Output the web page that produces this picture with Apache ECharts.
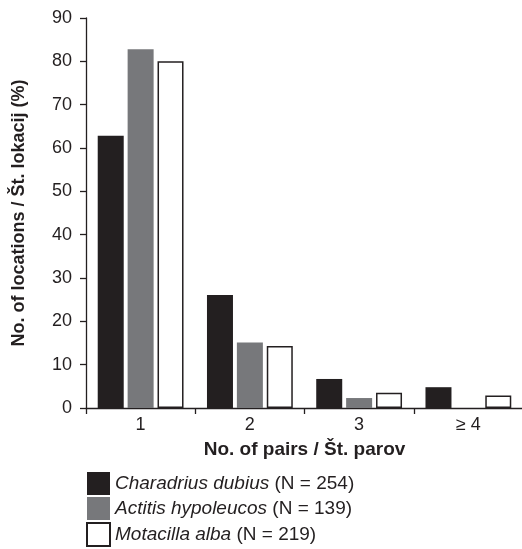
<!DOCTYPE html>
<html>
<head>
<meta charset="utf-8">
<script src="https://cdn.jsdelivr.net/npm/echarts@6/dist/echarts.min.js"></script>
<style>html,body{margin:0;padding:0;background:#fff}#c{width:522px;height:549px}</style>
</head>
<body>
<div id="c"></div>
<script>
const categories = ['1', '2', '3', '≥ 4'];
const species = ['Charadrius dubius', 'Actitis hypoleucos', 'Motacilla alba'];
const sampleSizes = [254, 139, 219];
const charadrius = [62.8, 26.1, 6.7, 4.8];
const actitis = [82.8, 15.1, 2.3, 0];
const motacilla = [80.0, 14.3, 3.5, 2.9];
const yTicks = [0, 10, 20, 30, 40, 50, 60, 70, 80, 90];

const FONT = "'Liberation Sans', Arial, sans-serif";
const INK = '#231f20';
const values = [charadrius, actitis, motacilla];
const styles = [
  {color: '#231f20', borderColor: '#231f20', borderWidth: 0},
  {color: '#77787b', borderColor: '#77787b', borderWidth: 0},
  {color: '#ffffff', borderColor: '#231f20', borderWidth: 1.5}
];
const names = species.map((s, i) => s + ' (N = ' + sampleSizes[i] + ')');

const chart = echarts.init(document.getElementById('c'), null, {renderer: 'canvas'});
chart.setOption({
  animation: false,
  backgroundColor: '#ffffff',
  textStyle: {fontFamily: FONT, color: INK},
  grid: {left: 86, top: 18, bottom: 141, width: 437, containLabel: false, outerBoundsMode: 'none'},
  legend: {
    orient: 'vertical',
    left: 86,
    top: 472,
    padding: 0,
    itemWidth: 23,
    itemHeight: 23,
    itemGap: 2,
    icon: 'rect',
    data: names,
    formatter: function (name) {
      const i = names.indexOf(name);
      return '{i|' + species[i] + '}{n| (N = ' + sampleSizes[i] + ')}';
    },
    textStyle: {
      color: INK,
      fontFamily: FONT,
      fontSize: 19,
      lineHeight: 20,
      rich: {
        i: {fontStyle: 'italic', fontSize: 19, lineHeight: 20, fontFamily: FONT, color: INK},
        n: {fontSize: 19, lineHeight: 20, fontFamily: FONT, color: INK}
      }
    }
  },
  xAxis: {
    type: 'category',
    data: categories,
    name: 'No. of pairs / Št. parov',
    nameLocation: 'middle',
    nameGap: 32,
    nameTextStyle: {fontSize: 19, fontWeight: 'bold', color: INK, fontFamily: FONT},
    axisLine: {lineStyle: {color: INK, width: 1.3}},
    axisTick: {show: true, length: 6, lineStyle: {color: INK, width: 1.3}},
    axisLabel: {fontSize: 18, color: INK, margin: 8, fontFamily: FONT}
  },
  yAxis: {
    type: 'value',
    min: yTicks[0],
    max: yTicks[yTicks.length - 1],
    interval: yTicks[1] - yTicks[0],
    name: 'No. of locations / Št. lokacij (%)',
    nameLocation: 'middle',
    nameGap: 58,
    nameTextStyle: {fontSize: 18, fontWeight: 'bold', color: INK, fontFamily: FONT},
    axisLine: {show: true, lineStyle: {color: INK, width: 1.3}},
    axisTick: {show: true, length: 6, lineStyle: {color: INK, width: 1.3}},
    axisLabel: {fontSize: 18, color: INK, margin: 14, fontFamily: FONT},
    splitLine: {show: false}
  },
  series: values.map((v, i) => ({
    type: 'bar',
    name: names[i],
    data: v,
    barWidth: 26,
    barGap: '15%',
    itemStyle: styles[i]
  }))
});
</script>
</body>
</html>
